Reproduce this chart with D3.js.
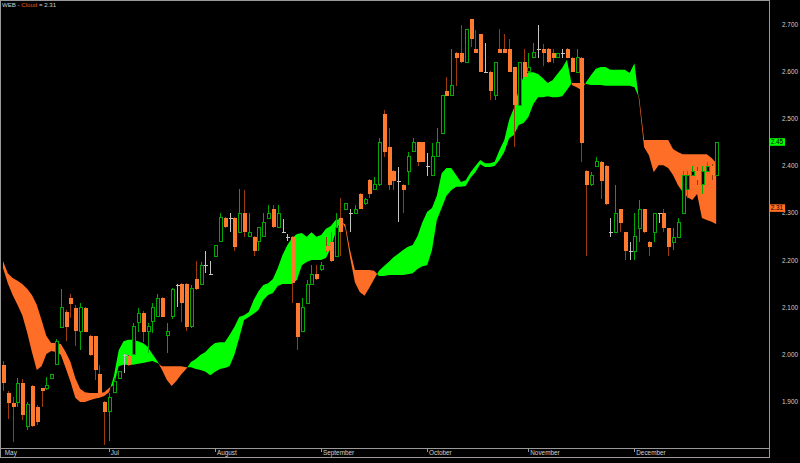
<!DOCTYPE html>
<html><head><meta charset="utf-8">
<script src="https://cdn.jsdelivr.net/npm/d3@7"></script>
<style>body{margin:0;background:#000;overflow:hidden}svg{display:block}</style>
</head><body>
<svg id="chart" width="800" height="463"></svg>
<script>
// ---- data (bar index 0..148) ----
const opens = [1.977,1.919,1.898,1.898,1.939,1.848,1.934,1.889,1.928,1.928,1.948,1.979,2.057,2.089,2.120,2.099,2.048,2.099,2.039,2.039,1.958,1.900,1.879,1.919,1.948,1.999,1.997,2.000,2.068,2.087,2.048,2.069,2.080,2.119,2.039,2.080,2.148,
2.149,2.149,2.059,2.159,2.149,2.189,2.170,2.208,2.239,2.290,2.288,2.290,2.259,2.299,2.249,2.249,2.239,2.249,2.288,2.309,2.269,2.259,2.249,2.249,2.108,2.048,2.108,2.148,2.170,2.179,2.230,2.239,2.208,2.290,2.308,2.299,2.299,2.340,2.319,2.369,2.350,
2.359,2.509,2.439,2.388,2.368,2.359,2.387,2.429,2.449,2.449,2.399,2.379,2.419,2.468,2.559,2.548,2.639,2.639,2.619,2.710,2.648,2.679,2.598,2.599,2.548,2.648,2.648,2.648,2.608,2.528,2.619,2.599,2.629,2.648,2.648,2.648,
2.638,2.629,2.638,2.648,2.629,2.598,2.629,2.388,2.359,2.399,2.408,2.399,2.259,2.259,2.308,2.259,2.219,2.219,2.267,2.308,2.239,2.259,2.299,2.299,2.267,2.237,2.248,2.299,2.350,2.379,2.388,2.359,2.388,2.399,2.379];
const highs = [1.985,1.923,1.910,1.949,1.948,1.900,1.935,1.893,1.929,1.953,1.958,2.033,2.138,2.094,2.127,2.105,2.108,2.100,2.041,2.040,1.977,1.901,1.918,1.949,1.965,2.000,1.999,2.067,2.098,2.091,2.066,2.108,2.129,2.122,2.066,2.140,2.149,
2.151,2.151,2.147,2.198,2.196,2.219,2.198,2.232,2.299,2.291,2.299,2.291,2.350,2.348,2.300,2.251,2.270,2.299,2.316,2.316,2.316,2.286,2.256,2.251,2.109,2.119,2.158,2.189,2.189,2.196,2.249,2.259,2.299,2.331,2.321,2.309,2.316,2.342,2.331,2.372,2.376,
2.458,2.518,2.479,2.391,2.398,2.361,2.429,2.458,2.450,2.450,2.427,2.448,2.479,2.550,2.588,2.648,2.641,2.698,2.689,2.711,2.687,2.679,2.659,2.600,2.619,2.689,2.679,2.668,2.609,2.619,2.648,2.638,2.659,2.698,2.658,2.649,
2.647,2.639,2.647,2.649,2.630,2.647,2.630,2.391,2.387,2.418,2.410,2.401,2.288,2.359,2.309,2.259,2.239,2.299,2.327,2.309,2.240,2.300,2.299,2.308,2.268,2.267,2.288,2.388,2.388,2.399,2.396,2.399,2.408,2.404,2.450];
const lows = [1.923,1.863,1.815,1.889,1.862,1.840,1.847,1.850,1.889,1.925,1.947,1.977,2.057,2.029,2.078,2.018,2.009,2.047,1.997,1.946,1.918,1.808,1.817,1.918,1.947,1.960,1.975,1.999,2.048,2.027,2.002,2.045,2.080,2.079,2.002,2.076,2.101,
2.069,2.050,2.056,2.136,2.147,2.172,2.170,2.206,2.238,2.268,2.260,2.219,2.257,2.249,2.249,2.208,2.219,2.249,2.288,2.268,2.268,2.258,2.240,2.109,2.009,2.047,2.107,2.147,2.158,2.177,2.217,2.196,2.206,2.208,2.306,2.260,2.297,2.308,2.316,2.331,2.348,
2.357,2.419,2.348,2.348,2.280,2.299,2.359,2.429,2.399,2.408,2.379,2.378,2.418,2.467,2.547,2.547,2.569,2.617,2.617,2.652,2.639,2.598,2.598,2.540,2.540,2.639,2.639,2.598,2.440,2.527,2.588,2.598,2.628,2.629,2.610,2.617,
2.618,2.628,2.629,2.628,2.598,2.597,2.408,2.209,2.357,2.398,2.329,2.316,2.249,2.257,2.259,2.200,2.200,2.200,2.239,2.257,2.209,2.239,2.278,2.259,2.209,2.221,2.247,2.297,2.331,2.378,2.359,2.339,2.387,2.370,2.378];
const closes = [1.939,1.898,1.889,1.939,1.872,1.893,1.849,1.857,1.923,1.935,1.958,2.028,2.100,2.057,2.107,2.050,2.100,2.048,1.999,1.968,1.919,1.879,1.908,1.942,1.963,1.999,1.977,2.059,2.087,2.048,2.059,2.099,2.119,2.080,2.048,2.138,2.148,
2.108,2.059,2.139,2.139,2.189,2.189,2.170,2.230,2.290,2.269,2.288,2.228,2.299,2.259,2.259,2.219,2.269,2.279,2.299,2.269,2.299,2.259,2.249,2.151,2.037,2.099,2.148,2.170,2.159,2.189,2.219,2.198,2.269,2.259,2.319,2.299,2.308,2.309,2.329,2.340,2.360,
2.449,2.429,2.359,2.368,2.368,2.348,2.419,2.449,2.408,2.408,2.399,2.419,2.449,2.548,2.548,2.569,2.629,2.619,2.689,2.668,2.639,2.599,2.598,2.559,2.619,2.639,2.639,2.599,2.528,2.619,2.588,2.608,2.639,2.648,2.639,2.619,
2.629,2.638,2.638,2.629,2.599,2.629,2.448,2.359,2.379,2.408,2.368,2.318,2.259,2.299,2.278,2.219,2.219,2.249,2.308,2.259,2.228,2.299,2.299,2.267,2.228,2.248,2.279,2.379,2.379,2.388,2.370,2.388,2.399,2.381,2.449];
// Ichimoku cloud spans
const spanA = [2.183,2.151,2.126,2.105,2.083,2.047,2.005,1.967,1.975,2.001,2.007,2.005,1.999,1.971,1.942,1.908,1.899,1.899,1.903,1.906,1.908,1.912,1.920,1.954,2.009,2.028,2.031,2.031,2.028,2.024,2.016,2.001,1.986,1.967,1.946,1.933,1.944,1.958,1.969,
1.984,1.990,1.999,2.005,2.016,2.024,2.026,2.026,2.041,2.058,2.079,2.083,2.090,2.115,2.134,2.147,2.151,2.160,2.183,2.211,2.232,2.247,2.255,2.257,2.249,2.259,2.249,2.253,2.266,2.272,2.285,2.287,2.268,2.206,2.153,2.132,2.124,2.141,2.160,
2.177,2.187,2.196,2.206,2.213,2.221,2.228,2.232,2.251,2.280,2.302,2.310,2.336,2.384,2.395,2.395,2.380,2.365,2.369,2.386,2.399,2.412,2.405,2.405,2.408,2.433,2.454,2.497,2.522,2.560,2.590,2.598,2.598,2.594,2.585,2.575,2.581,2.594,2.607,2.624,
2.571,2.566,2.560,2.577,2.592,2.605,2.609,2.609,2.603,2.603,2.603,2.603,2.596,2.617,2.533,2.439,2.422,2.386,2.401,2.401,2.395,2.380,2.359,2.344,2.333,2.327,2.340,2.289,2.285,2.281,2.276];
const spanB = [2.198,2.172,2.162,2.156,2.149,2.139,2.126,2.105,2.073,2.039,2.024,2.024,2.022,2.005,1.984,1.950,1.927,1.920,1.918,1.918,1.918,1.920,1.929,1.935,1.975,1.978,1.978,1.978,1.980,1.982,1.984,1.986,1.982,1.975,1.975,1.975,1.975,1.975,1.973,
1.973,1.969,1.967,1.963,1.956,1.963,1.969,1.971,1.975,1.999,2.035,2.073,2.079,2.086,2.094,2.115,2.126,2.130,2.145,2.149,2.149,2.149,2.158,2.189,2.196,2.200,2.200,2.200,2.204,2.225,2.259,2.281,2.276,2.221,2.179,2.179,2.179,2.179,2.177,
2.166,2.166,2.168,2.168,2.168,2.168,2.170,2.172,2.181,2.187,2.189,2.221,2.285,2.310,2.336,2.348,2.355,2.355,2.357,2.374,2.386,2.403,2.397,2.397,2.399,2.412,2.429,2.458,2.465,2.486,2.490,2.503,2.530,2.545,2.545,2.547,2.545,2.545,2.547,2.560,
2.575,2.575,2.575,2.573,2.571,2.571,2.571,2.569,2.569,2.569,2.569,2.569,2.569,2.566,2.543,2.454,2.454,2.454,2.454,2.454,2.454,2.435,2.429,2.424,2.424,2.424,2.424,2.424,2.424,2.416,2.405];
const monthLabels = ["May","Jul","August","September","October","November","December"];
const monthStartBars = [0,22,44,66,88,109,131];
const yTickValues = [1.9,2.0,2.1,2.2,2.3,2.4,2.5,2.6,2.7];
const symbol = "WEB";
const lastClose = 2.45;
const cloudValue = 2.31;

// ---- layout ----
const W = 800, H = 463;
const plotRight = 769, plotBottom = 448, axisBottom = 457;
const svg = d3.select("#chart");
svg.append("rect").attr("width",W).attr("height",H).attr("fill","#000");

const n = closes.length;
const x = d3.scaleLinear().domain([0, n-1]).range([3, 716.4]);
const y = d3.scaleLinear().domain([1.9, 2.7]).range([401.6, 24]);

const bars = d3.range(n).map(i => ({i, o:opens[i], h:highs[i], l:lows[i], c:closes[i], a:spanA[i], b:spanB[i]}));

// clip to plot
const defs = svg.append("defs");
defs.append("clipPath").attr("id","plotclip").append("rect").attr("x",0).attr("y",0).attr("width",plotRight).attr("height",plotBottom);

// cloud: green where A above B, orange where B above A
const lineA = d3.area().x(d=>x(d.i)).y0(d=>y(d.a)).y1(plotBottom+50);
const lineAtop = d3.area().x(d=>x(d.i)).y0(-50).y1(d=>y(d.a));
defs.append("clipPath").attr("id","belowA").append("path").attr("d", lineA(bars));
defs.append("clipPath").attr("id","aboveA").append("path").attr("d", lineAtop(bars));

const plot = svg.append("g").attr("clip-path","url(#plotclip)");
const cloudG = plot.append("g");
// green: y > yA and y < yB
cloudG.append("path")
  .attr("d", d3.area().x(d=>x(d.i)).y0(-50).y1(d=>y(d.b))(bars))
  .attr("clip-path","url(#belowA)")
  .attr("fill","#00ff00");
// orange: y < yA and y > yB
cloudG.append("path")
  .attr("d", d3.area().x(d=>x(d.i)).y0(d=>y(d.b)).y1(plotBottom+50)(bars))
  .attr("clip-path","url(#aboveA)")
  .attr("fill","#ff6e26");

// candles
const upStroke = "#00a800", downFill = "#ff7a2e", downWick = "#9c3c0c", dojiCol = "#c4c4c4";
const cg = plot.append("g").attr("shape-rendering","crispEdges");
const kind = d => d.c > d.o ? "up" : (d.c < d.o ? "down" : "doji");
cg.selectAll("line.wick").data(bars).join("line")
  .attr("class","wick")
  .attr("x1", d=>Math.round(x(d.i))+0.5).attr("x2", d=>Math.round(x(d.i))+0.5)
  .attr("y1", d=>y(d.h)).attr("y2", d=>y(d.l))
  .attr("stroke", d=>kind(d)==="up"?upStroke:(kind(d)==="down"?downWick:dojiCol))
  .attr("stroke-width",1);
cg.selectAll("rect.down").data(bars.filter(d=>kind(d)==="down")).join("rect")
  .attr("class","down")
  .attr("x", d=>Math.round(x(d.i))-1.5).attr("width",4)
  .attr("y", d=>y(d.o)).attr("height", d=>Math.max(1, y(d.c)-y(d.o)))
  .attr("fill", downFill);
cg.selectAll("rect.up").data(bars.filter(d=>kind(d)==="up")).join("rect")
  .attr("class","up")
  .attr("x", d=>Math.round(x(d.i))-1).attr("width",3)
  .attr("y", d=>y(d.c)).attr("height", d=>Math.max(1, y(d.o)-y(d.c)))
  .attr("fill","#000").attr("stroke", upStroke).attr("stroke-width",1);
cg.selectAll("line.doji").data(bars.filter(d=>kind(d)==="doji")).join("line")
  .attr("class","doji")
  .attr("x1", d=>Math.round(x(d.i))-1.5).attr("x2", d=>Math.round(x(d.i))+2.5)
  .attr("y1", d=>Math.round(y(d.o))+0.5).attr("y2", d=>Math.round(y(d.o))+0.5)
  .attr("stroke", dojiCol);

// frame
const frameCol = "#9a9a9a";
const fr = svg.append("g").attr("stroke",frameCol).attr("stroke-width",1).attr("fill","none").attr("shape-rendering","crispEdges");
fr.append("rect").attr("x",0.5).attr("y",0.5).attr("width",plotRight).attr("height",axisBottom);
fr.append("line").attr("x1",0).attr("x2",plotRight).attr("y1",plotBottom+0.5).attr("y2",plotBottom+0.5);

// y axis labels
const yAxis = d3.axisLeft(y).tickValues(yTickValues).tickFormat(d3.format(".3f")).tickSize(0).tickPadding(0);
const yg = svg.append("g").attr("transform","translate(798,0)").call(yAxis);
yg.select(".domain").remove();
yg.selectAll("text").attr("fill","#d0d0d0").attr("font-family","Liberation Sans, Arial, sans-serif").attr("font-size","6.4px").attr("dy","0.34em");

// x axis (month starts)
const xAxis = d3.axisBottom(x).tickValues(monthStartBars).tickFormat((d,k)=>monthLabels[k]).tickSize(3).tickPadding(0);
const xg = svg.append("g").attr("transform",`translate(-0.5,${plotBottom+1})`).call(xAxis);
xg.select(".domain").remove();
xg.selectAll(".tick line").attr("stroke",frameCol).attr("shape-rendering","crispEdges");
xg.selectAll(".tick text").attr("fill","#d0d0d0").attr("text-anchor","start").attr("x",1.8).attr("y",0).attr("dy","5.8px")
  .attr("font-family","Liberation Sans, Arial, sans-serif").attr("font-size","6.4px");
xg.selectAll(".tick").filter(d=>d===0).select("line").remove();

// value tags
function tag(v, fill){
  const g = svg.append("g").attr("transform",`translate(769.5,${y(v)})`);
  g.append("rect").attr("x",0).attr("y",-3.8).attr("width",15.5).attr("height",7.6).attr("fill",fill);
  g.append("text").attr("x",1.2).attr("y",0).attr("dy","0.34em").text(v.toFixed(2))
   .attr("fill","#000").attr("font-family","Liberation Sans, Arial, sans-serif").attr("font-size","6.4px");
}
tag(lastClose, "#00ff00");
tag(cloudValue, "#ff6e26");

// title
const t = svg.append("text").attr("x",2).attr("y",7).attr("font-family","Liberation Sans, Arial, sans-serif").attr("font-size","6.1px");
t.append("tspan").attr("fill","#d0d0d0").text(symbol + " - ");
t.append("tspan").attr("fill","#e0581c").text("Cloud");
t.append("tspan").attr("fill","#d0d0d0").text(" = " + cloudValue.toFixed(2));
</script>
</body></html>
